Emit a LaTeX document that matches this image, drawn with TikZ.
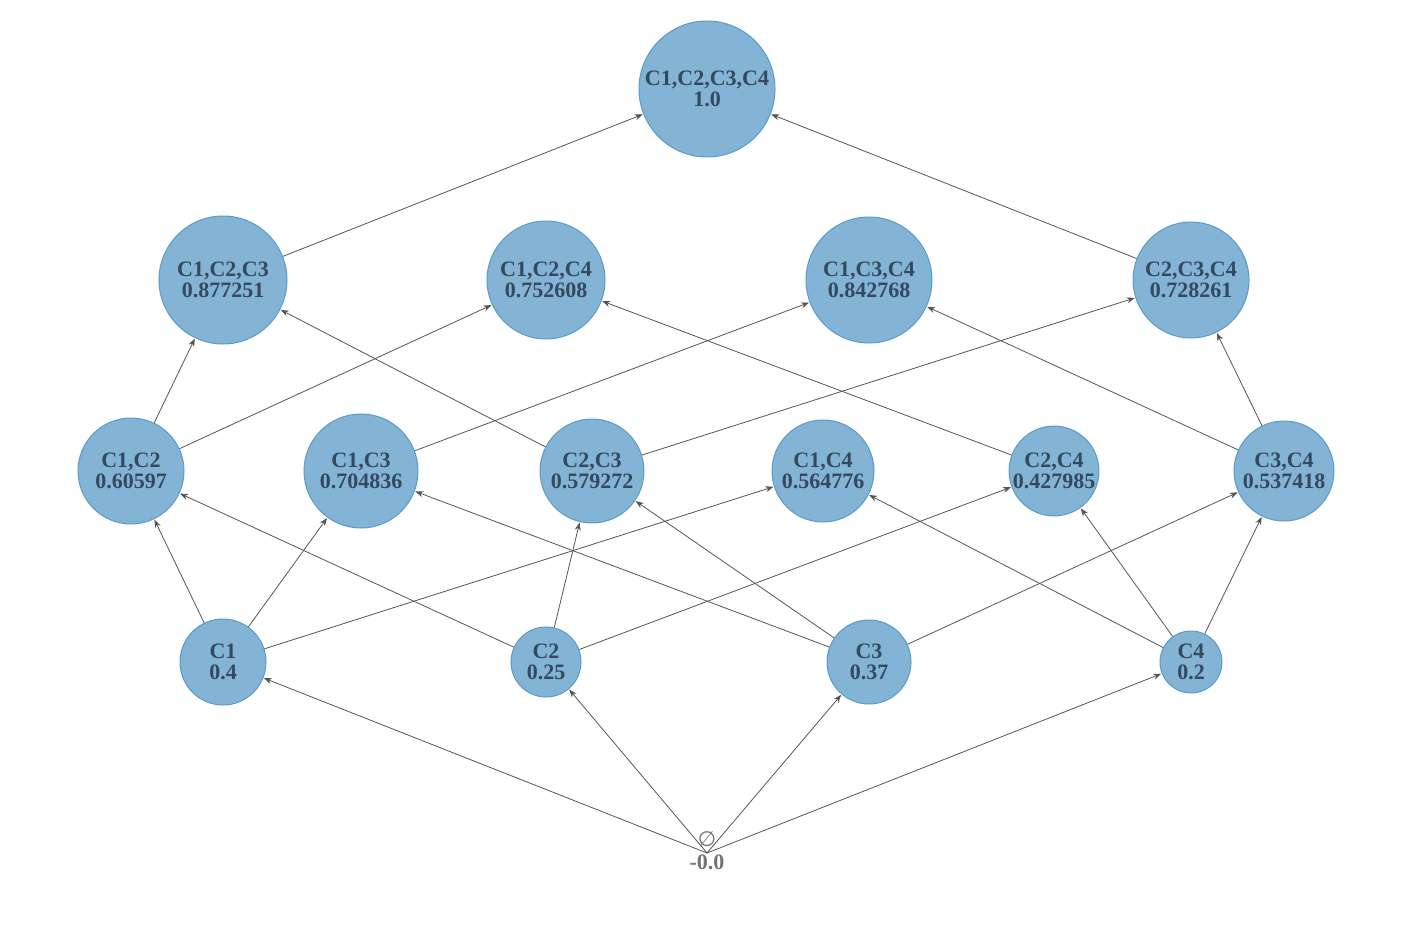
\documentclass[tikz,border=0pt]{standalone}
\usepackage{fontspec}
\setmainfont{Liberation Serif}
\newfontfamily\symfont{DejaVu Sans}
\usetikzlibrary{arrows.meta}
\definecolor{nodefill}{RGB}{131,180,213}
\definecolor{nodeedge}{RGB}{90,155,200}
\definecolor{nodetext}{RGB}{52,73,94}
\definecolor{edgecol}{RGB}{85,85,85}
\tikzset{
  setnode/.style={circle, fill=nodefill, draw=nodeedge, line width=1pt, inner sep=0pt,
    minimum size=#1, align=center, text=nodetext,
    font=\fontsize{22}{21}\selectfont\bfseries},
  conn/.style={draw=edgecol, line width=0.8pt, -{Stealth[length=8pt,width=6pt]}, shorten >=0.5pt},
}
\begin{document}
\begin{tikzpicture}[x=1pt,y=-1pt]
\useasboundingbox (0,0) rectangle (1415,944);
\node[setnode=136pt] (abcd) at (707,89) {C1,C2,C3,C4\\1.0};
\node[setnode=128pt] (abc) at (223,280) {C1,C2,C3\\0.877251};
\node[setnode=118pt] (abd) at (546,280) {C1,C2,C4\\0.752608};
\node[setnode=126pt] (acd) at (869,280) {C1,C3,C4\\0.842768};
\node[setnode=116pt] (bcd) at (1191,280) {C2,C3,C4\\0.728261};
\node[setnode=106pt] (ab) at (131,471) {C1,C2\\0.60597};
\node[setnode=114pt] (ac) at (361,471) {C1,C3\\0.704836};
\node[setnode=104pt] (bc) at (592,471) {C2,C3\\0.579272};
\node[setnode=102pt] (ad) at (823,471) {C1,C4\\0.564776};
\node[setnode=88pt] (bd) at (1054,471) {C2,C4\\0.427985};
\node[setnode=100pt] (cd) at (1284,471) {C3,C4\\0.537418};
\node[setnode=86pt] (a) at (223,662) {C1\\0.4};
\node[setnode=70pt] (b) at (546,662) {C2\\0.25};
\node[setnode=84pt] (c) at (869,662) {C3\\0.37};
\node[setnode=62pt] (d) at (1191,662) {C4\\0.2};
\coordinate (e) at (707,853);
\node[text=gray!90!black, font=\fontsize{21}{20}\selectfont\symfont, inner sep=0pt] (elabel) at (707,839) {∅};
\node[text=gray!90!black, font=\fontsize{22}{21}\selectfont\bfseries, inner sep=0pt] (evalue) at (707,862) {-0.0};
\foreach \s/\t in {abc/abcd, bcd/abcd,
  ab/abc, ab/abd, ac/acd, bc/abc, bc/bcd, bd/abd, cd/acd, cd/bcd,
  a/ab, a/ac, a/ad, b/ab, b/bc, b/bd, c/ac, c/bc, c/cd, d/ad, d/bd, d/cd,
  e/a, e/b, e/c, e/d}
  \draw[conn] (\s) -- (\t);
\end{tikzpicture}
\end{document}
